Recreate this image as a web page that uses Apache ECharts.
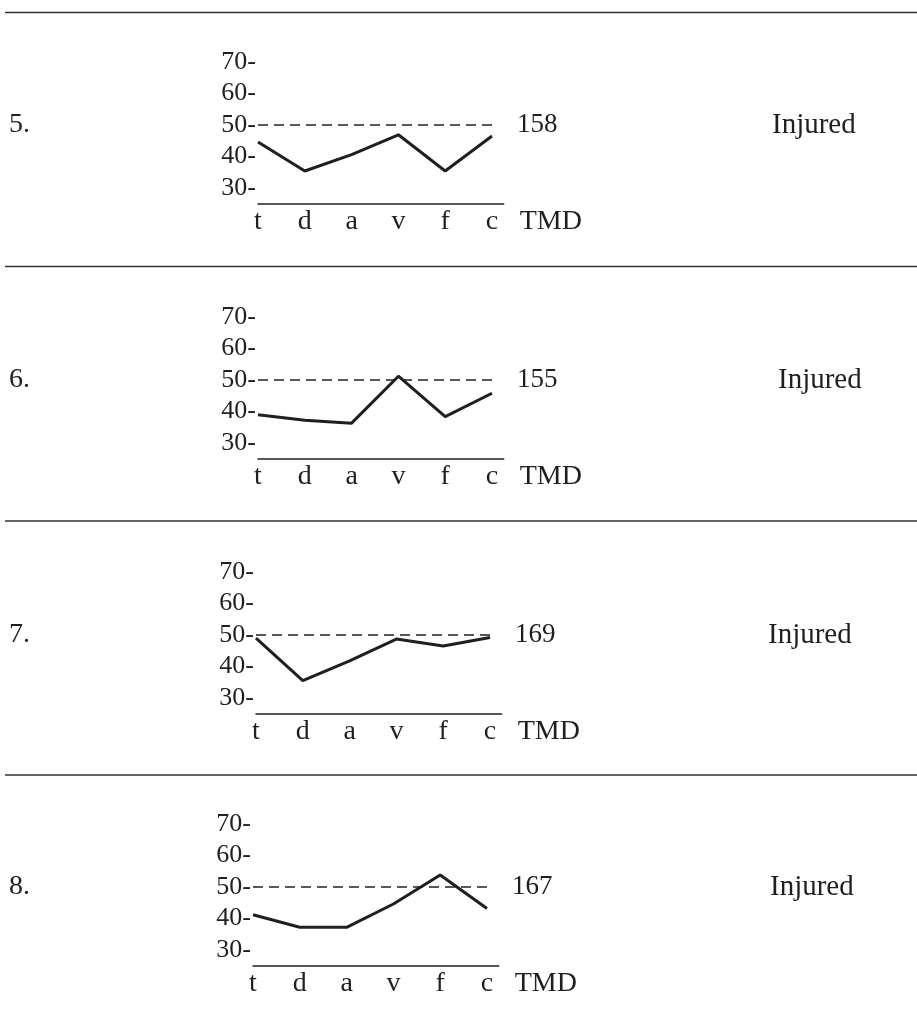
<!DOCTYPE html>
<html>
<head>
<meta charset="utf-8">
<script src="https://cdn.jsdelivr.net/npm/echarts@6/dist/echarts.min.js"></script>
<style>
html,body{margin:0;padding:0;background:#ffffff;}
#chart{width:917px;height:1019px;}
</style>
</head>
<body>
<div id="chart"></div>
<script>
// ---- data ----
const categories = ['t', 'd', 'a', 'v', 'f', 'c'];
const yTickValues = [30, 40, 50, 60, 70];
const referenceValue = 50;
const panelNumbers = ['5.', '6.', '7.', '8.'];
const tmdScores = [158, 155, 169, 167];
const statuses = ['Injured', 'Injured', 'Injured', 'Injured'];
const subject5 = [44.6, 35.4, 40.6, 46.9, 35.4, 46.5];
const subject6 = [39.0, 37.2, 36.3, 51.2, 38.4, 45.8];
const subject7 = [49.0, 35.5, 41.8, 48.7, 46.5, 49.2];
const subject8 = [41.2, 37.2, 37.2, 44.6, 53.8, 43.2];
const profiles = [subject5, subject6, subject7, subject8];

// ---- layout ----
const gridTops = [62, 317, 572, 824];
const gridLefts = [258, 258, 256, 253];
const separatorYs = [12.5, 266.5, 521, 775];
const numberXs = [9, 9, 9, 9];
const statusXs = [772, 778, 768, 770];
const FONT = '"Liberation Serif", "Times New Roman", serif';
const INK = '#1f1f1f';

const grids = [], xAxes = [], yAxes = [], series = [], graphics = [];
profiles.forEach((vals, i) => {
  grids.push({ left: gridLefts[i], top: gridTops[i], width: 245.7, height: 141.75 });
  xAxes.push({
    type: 'value', gridIndex: i, min: 0, max: 5.25, interval: 1,
    axisLine: { show: true, lineStyle: { color: INK, width: 1.5 } },
    axisTick: { show: false }, splitLine: { show: false },
    axisLabel: {
      margin: 4, fontSize: 28, fontFamily: FONT, color: INK,
      formatter: v => (Number.isInteger(v) && v >= 0 && v < categories.length) ? categories[v] : ''
    },
    name: 'TMD', nameLocation: 'end', nameGap: 16,
    nameTextStyle: { fontSize: 28, fontFamily: FONT, color: INK, verticalAlign: 'top', lineHeight: 36 }
  });
  yAxes.push({
    type: 'value', gridIndex: i, min: 25, max: 70, interval: 5,
    axisLine: { show: false }, axisTick: { show: false }, splitLine: { show: false },
    axisLabel: {
      margin: 2, fontSize: 26, fontFamily: FONT, color: INK,
      formatter: v => yTickValues.indexOf(v) >= 0 ? v + '-' : ''
    }
  });
  series.push({
    type: 'line', xAxisIndex: i, yAxisIndex: i,
    data: vals.map((v, k) => [k, v]),
    symbol: 'none',
    lineStyle: { color: INK, width: 3 },
    markLine: {
      silent: true, symbol: ['none', 'none'],
      lineStyle: { type: [10, 6], color: INK, width: 1.5 },
      label: { show: true, position: 'end', distance: 25, formatter: String(tmdScores[i]), fontSize: 27, fontFamily: FONT, color: INK },
      data: [[{ coord: [0, referenceValue] }, { coord: [categories.length - 1, referenceValue] }]]
    }
  });
  graphics.push({
    type: 'line', shape: { x1: 5, y1: separatorYs[i], x2: 917, y2: separatorYs[i] },
    style: { stroke: '#333', lineWidth: 1.5 }
  });
  const midY = gridTops[i] + (70 - referenceValue) * 141.75 / 45;
  graphics.push({
    type: 'text', x: numberXs[i], y: midY,
    style: { text: panelNumbers[i], font: '28px ' + FONT, fill: INK, textVerticalAlign: 'middle' }
  });
  graphics.push({
    type: 'text', x: statusXs[i], y: midY,
    style: { text: statuses[i], font: '29px ' + FONT, fill: INK, textVerticalAlign: 'middle' }
  });
});

const chart = echarts.init(document.getElementById('chart'), null, { renderer: 'canvas' });
chart.setOption({
  animation: false,
  backgroundColor: '#ffffff',
  grid: grids, xAxis: xAxes, yAxis: yAxes, series: series,
  graphic: graphics
});
</script>
</body>
</html>
